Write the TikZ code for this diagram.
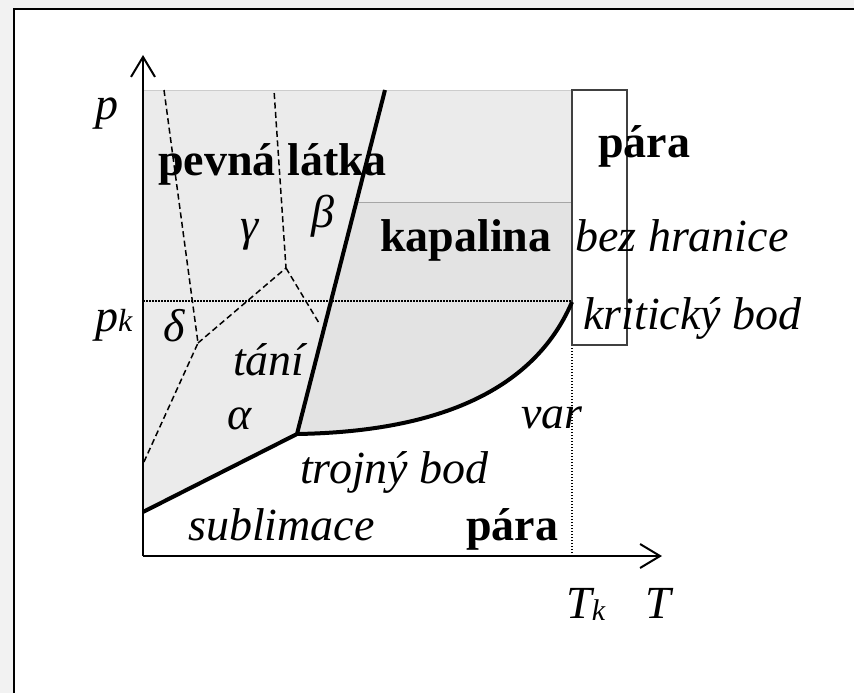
\documentclass[tikz,border=0pt]{standalone}
\usepackage{fontspec}
\setmainfont{Liberation Serif}
\usetikzlibrary{arrows.meta}
\begin{document}
\begin{tikzpicture}[x=1pt,y=-1pt,
  lbl/.style={anchor=base west, inner sep=0pt, font=\fontsize{46pt}{50pt}\selectfont\itshape},
  blbl/.style={anchor=base west, inner sep=0pt, font=\fontsize{46pt}{50pt}\selectfont\bfseries},
  axis/.style={line width=2.5pt, -{Straight Barb[length=20pt,width=24pt,line width=2pt]}},
  phase/.style={line width=4pt, line join=round},
  sub/.style={line width=1.5pt, dash pattern=on 6pt off 3.5pt},
  guide/.style={line width=1.4pt, dash pattern=on 1.5pt off 1.5pt},
  solidfill/.style={fill=black!8},
  liqfill/.style={fill=black!11},
  liqtop/.style={fill=black!8}]
\useasboundingbox (0,0) rectangle (854,693);
\fill[black!5] (0,0) rectangle (854,693);
\fill[white] (14,9) rectangle (854,693);
\draw[line width=2.5pt] (14,693) -- (14,9) -- (854,9);

% key points
\coordinate (O) at (143,556);
\coordinate (Ytop) at (143,55);
\coordinate (Xend) at (662,556);
\coordinate (S0) at (143,512);
\coordinate (TP) at (297,434);
\coordinate (MT) at (385,90);
\coordinate (CP) at (572,302);
\coordinate (TL) at (143,90);
\coordinate (TR) at (572,90);
\coordinate (M2) at (356,202);
\coordinate (R2) at (572,202);
\coordinate (PK0) at (143,301);
\coordinate (PK1) at (572,301);
\coordinate (TK0) at (572,556);
\coordinate (TK1) at (572,345);
\coordinate (D1) at (164,90);
\coordinate (J1) at (198,343);
\coordinate (D2) at (143,464);
\coordinate (J2) at (286,268);
\coordinate (D3) at (274,90);
\coordinate (D4) at (319,323);

% shaded regions
\fill[solidfill] (TL) -- (S0) -- (TP) -- (MT) -- cycle;
\fill[liqfill] (TP) -- (MT) -- (TR) -- (CP) .. controls (530,400) and (420,432) .. (TP) -- cycle;
\fill[liqtop] (M2) -- (MT) -- (TR) -- (R2) -- cycle;
\draw[black!35, line width=0.8pt] (M2) -- (R2);
\draw[black!20, line width=0.8pt] (TL) -- (TR);

% solid-phase boundaries
\draw[sub] (D1) -- (J1) -- (D2);
\draw[sub] (J1) -- (J2) -- (D3);
\draw[sub] (J2) -- (D4);

% guides
\draw[guide] (PK0) -- (PK1);
\draw[guide] (TK0) -- (TK1);

% box
\draw[line width=1.2pt, black!75] (TR) rectangle (627,345);

% phase lines
\draw[phase] (S0) -- (TP) -- (MT);
\draw[phase] (TP) .. controls (420,432) and (530,400) .. (CP);

% axes
\draw[axis] (O) -- (Ytop);
\draw[axis] (O) -- (Xend);

% labels
\node[lbl] (lp) at (95,119) {p};
\node[lbl] (lpk) at (95,331) {p{\fontsize{32pt}{33pt}\selectfont k}};
\node[blbl] (lsolid) at (158,175) {pevná látka};
\node[blbl] (lvap1) at (598,157) {pára};
\node[lbl] (lgamma) at (240,240) {γ};
\node[lbl] (lbeta) at (311,227) {β};
\node[blbl] (lliq) at (380,251) {kapalina};
\node[lbl] (lbez) at (575,251) {bez hranice};
\node[lbl] (ldelta) at (163,341) {δ};
\node[lbl] (lkrit) at (583,329) {kritický bod};
\node[lbl] (ltani) at (233,375) {tání};
\node[lbl] (lalpha) at (227,429) {α};
\node[lbl] (lvar) at (521,428) {var};
\node[lbl] (ltroj) at (300,483) {trojný bod};
\node[lbl] (lsubl) at (188,540) {sublimace};
\node[blbl] (lvap2) at (466,540) {pára};
\node[lbl] (ltk) at (566,618) {T\raisebox{-2pt}{\fontsize{30pt}{31pt}\selectfont k}};
\node[lbl] (lt) at (645,618) {T};
\end{tikzpicture}
\end{document}
